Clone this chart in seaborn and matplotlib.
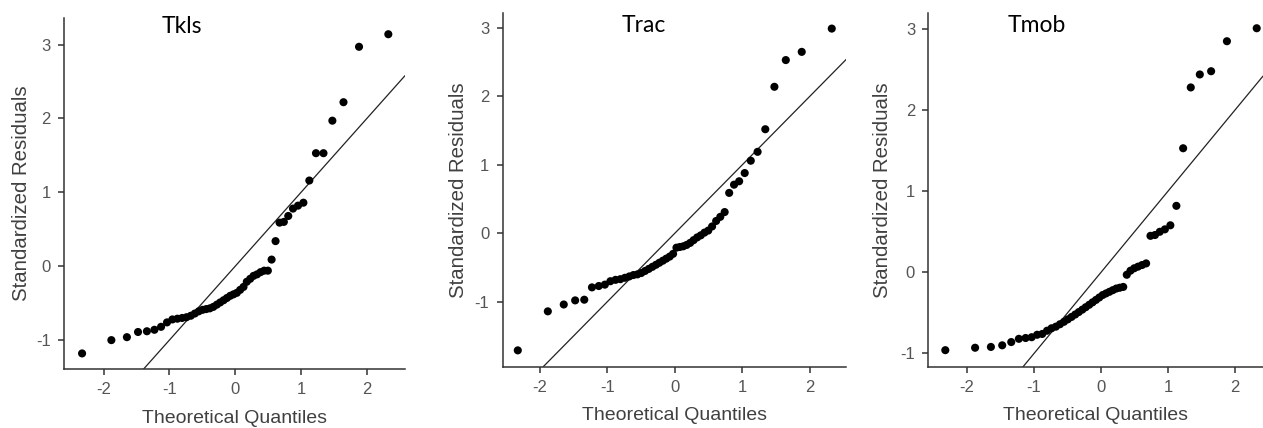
"""
Normal Q-Q plots of standardized residuals for three models (Tkls, Trac, Tmob).
Output: out.png
"""

import matplotlib
matplotlib.use('Agg')
import matplotlib.pyplot as plt
import seaborn as sns

# --- 1. Data ---
# theoretical normal quantiles (n = 50), shared by all three panels
quantiles = [-2.326, -1.881, -1.645, -1.476, -1.341, -1.227, -1.126, -1.036, -0.954, -0.878,
             -0.806, -0.739, -0.674, -0.613, -0.553, -0.496, -0.440, -0.385, -0.332, -0.279,
             -0.228, -0.176, -0.126, -0.075, -0.025,
             0.025, 0.075, 0.126, 0.176, 0.228, 0.279, 0.332, 0.385, 0.440, 0.496,
             0.553, 0.613, 0.674, 0.739, 0.806, 0.878, 0.954, 1.036, 1.126, 1.227,
             1.341, 1.476, 1.645, 1.881, 2.326]

tkls = [-1.18, -1.00, -0.96, -0.89, -0.88, -0.86, -0.82, -0.76, -0.72, -0.71,
        -0.70, -0.69, -0.67, -0.64, -0.61, -0.59, -0.58, -0.57, -0.55, -0.52,
        -0.49, -0.46, -0.43, -0.40, -0.38,
        -0.36, -0.32, -0.28, -0.21, -0.17, -0.13, -0.11, -0.08, -0.06, -0.06,
        0.09, 0.34, 0.59, 0.60, 0.68, 0.78, 0.82, 0.86, 1.16, 1.53,
        1.53, 1.97, 2.22, 2.97, 3.14]

trac = [-1.71, -1.14, -1.04, -0.98, -0.97, -0.79, -0.77, -0.75, -0.70, -0.68,
        -0.67, -0.65, -0.63, -0.61, -0.60, -0.58, -0.55, -0.52, -0.49, -0.46,
        -0.43, -0.40, -0.37, -0.34, -0.30,
        -0.21, -0.20, -0.19, -0.17, -0.14, -0.10, -0.06, -0.03, 0.01, 0.04,
        0.10, 0.18, 0.24, 0.31, 0.59, 0.71, 0.76, 0.88, 1.06, 1.19,
        1.52, 2.14, 2.53, 2.65, 2.99]

tmob = [-0.96, -0.93, -0.92, -0.90, -0.86, -0.82, -0.81, -0.80, -0.77, -0.76,
        -0.72, -0.69, -0.67, -0.64, -0.61, -0.58, -0.55, -0.52, -0.49, -0.46,
        -0.43, -0.40, -0.37, -0.34, -0.31,
        -0.28, -0.26, -0.24, -0.22, -0.20, -0.19, -0.18, -0.03, 0.02, 0.05,
        0.07, 0.09, 0.11, 0.45, 0.46, 0.50, 0.53, 0.58, 0.82, 1.53,
        2.28, 2.44, 2.48, 2.85, 3.01]

titles = ['Tkls', 'Trac', 'Tmob']
series = [tkls, trac, tmob]
xlims = [(-2.6, 2.58), (-2.55, 2.54), (-2.58, 2.42)]
ylims = [(-1.39, 3.36), (-1.95, 3.22), (-1.165, 3.2)]
y_ticks = [-1, 0, 1, 2, 3]
x_ticks = [-2, -1, 0, 1, 2]

# --- 2. Style ---
sns.set_style('ticks')
plt.rcParams['font.family'] = ['Liberation Sans', 'DejaVu Sans']

# axes boxes in figure fractions [left, bottom, width, height]
boxes = [[0.0507, 0.138, 0.270, 0.820],
         [0.398, 0.143, 0.272, 0.827],
         [0.735, 0.143, 0.265, 0.827]]
title_pos = [(0.346, 0.977), (0.41, 0.965), (0.324, 0.965)]
ylabel_x = [-0.096, -0.100, -0.107]

fig = plt.figure(figsize=(12.63, 4.28), dpi=100)

# --- 3. Panels ---
for i in range(3):
    ax = fig.add_axes(boxes[i])
    sns.scatterplot(x=quantiles, y=series[i], ax=ax, color='black',
                    s=34, edgecolor='none', linewidth=0, zorder=3)
    ax.axline((0, 0), slope=1, color='#222222', linewidth=0.9, zorder=2)

    ax.set_xlim(*xlims[i])
    ax.set_ylim(*ylims[i])
    ax.set_xticks(x_ticks)
    ax.set_yticks(y_ticks)
    ax.set_xticklabels([str(t) for t in x_ticks])
    ax.set_yticklabels([str(t) for t in y_ticks])

    sns.despine(ax=ax)
    for side in ['left', 'bottom']:
        ax.spines[side].set_color('#333333')
        ax.spines[side].set_linewidth(1.1)
    ax.tick_params(axis='both', length=4.5, width=1.1, color='#333333',
                   labelsize=12, labelcolor='#555555', pad=5)

    ax.set_xlabel('Theoretical Quantiles', fontsize=14, color='#404040', labelpad=9)
    ax.set_ylabel('Standardized Residuals', fontsize=14.7, color='#404040')
    ax.yaxis.set_label_coords(ylabel_x[i], 0.5)

    ax.text(title_pos[i][0], title_pos[i][1], titles[i], transform=ax.transAxes,
            ha='center', va='center', fontsize=16.5, color='black',
            family=['Lato', 'DejaVu Sans'])

plt.savefig('out.png', dpi=100)
plt.close()
